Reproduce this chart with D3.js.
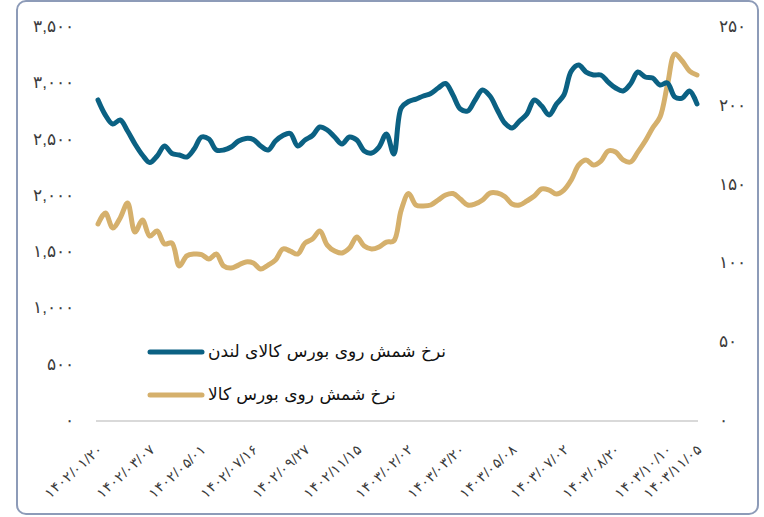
<!DOCTYPE html>
<html>
<head>
<meta charset="utf-8">
<script src="https://cdn.jsdelivr.net/npm/d3@7"></script>
<style>
	body { margin: 0; background: #ffffff; }
	svg { display: block; font-family: "DejaVu Sans", sans-serif; }
</style>
</head>
<body>
<script>
// Dates shown on the category axis (every 7th point, plus the last one)
var dateLabels = ["1402/01/20", "1402/03/07", "1402/05/01", "1402/07/16", "1402/09/27", "1402/11/15",
	"1403/02/02", "1403/03/20", "1403/05/08", "1403/07/02", "1403/08/20", "1403/10/10", "1403/11/05"];
var dateIndex = [0, 7, 14, 21, 28, 35, 42, 49, 56, 63, 70, 77, 81];

// London exchange price (left axis)
var londonValues = [2843, 2709, 2629, 2665, 2567, 2452, 2354, 2287, 2345, 2434,
	2367, 2354, 2336, 2407, 2514, 2496, 2398, 2398, 2425, 2478,
	2501, 2492, 2434, 2398, 2478, 2527, 2545, 2434, 2487, 2527,
	2603, 2576, 2514, 2452, 2514, 2487, 2390, 2372, 2425, 2541,
	2363, 2772, 2829, 2851, 2878, 2900, 2949, 2989, 2887, 2763,
	2745, 2843, 2931, 2878, 2754, 2638, 2594, 2656, 2718, 2843,
	2789, 2709, 2807, 2887, 3100, 3153, 3091, 3065, 3065, 3002,
	2949, 2923, 2985, 3091, 3047, 3038, 2976, 2994, 2869, 2860,
	2923, 2807];

// Iran commodity exchange price (right axis)
var iranValues = [124.4, 131.3, 121.8, 128.2, 137.7, 119.3, 126.9, 116.7, 119.9, 111.7,
	112.3, 97.7, 104.1, 105.3, 105.0, 102.2, 105.3, 97.7, 96.4, 98.3,
	100.3, 99.6, 95.8, 98.3, 101.5, 108.5, 107.2, 105.3, 112.3, 114.8,
	119.9, 111.0, 107.2, 106.0, 109.1, 116.1, 110.4, 108.5, 109.8, 112.9,
	113.6, 133.2, 143.7, 136.4, 135.8, 136.4, 139.6, 142.8, 143.7, 140.2,
	136.4, 137.1, 139.6, 144.0, 144.0, 141.8, 137.1, 136.4, 139.0, 142.1,
	146.6, 145.9, 143.4, 145.9, 152.3, 161.8, 165.0, 161.8, 164.3, 170.7,
	170.0, 165.0, 163.7, 170.0, 177.0, 185.3, 192.2, 212.6, 232.2, 227.8,
	221.4, 218.9];

var leftTicks = [0, 500, 1000, 1500, 2000, 2500, 3000, 3500];
var rightTicks = [0, 50, 100, 150, 200, 250];

var seriesNames = ["نرخ شمش روی بورس کالای لندن", "نرخ شمش روی بورس کالا"];
var seriesColors = ["#0b6183", "#d5b06c"];

// Latin digits -> Persian digits
function toPersian(s) {
	return String(s).replace(/[0-9]/g, function(c) { return "۰۱۲۳۴۵۶۷۸۹"[+c]; });
}

function generateViz() {
	var width = 764,
		height = 517;

	var svg = d3.select("body").append("svg")
		.attr("width", width)
		.attr("height", height);

	// chart frame
	svg.append("rect")
		.attr("x", 17)
		.attr("y", 1)
		.attr("width", 741)
		.attr("height", 513)
		.attr("rx", 9)
		.style("fill", "#ffffff")
		.style("stroke", "#8d9bb8")
		.style("stroke-width", 2);

	var xScale = d3.scaleLinear()
		.domain([0, londonValues.length - 1])
		.range([98, 697]);

	var yLeft = d3.scaleLinear().domain([0, 3500]).range([420, 26]);
	var yRight = d3.scaleLinear().domain([0, 250]).range([420, 26]);

	// baseline
	svg.append("line")
		.attr("x1", xScale(0) - 2)
		.attr("x2", xScale(londonValues.length - 1) + 1)
		.attr("y1", yLeft(0) + 1)
		.attr("y2", yLeft(0) + 1)
		.style("stroke", "#d9d9d9")
		.style("stroke-width", 2);

	// left axis
	var leftAxis = svg.append("g")
		.attr("transform", "translate(74,0)")
		.call(d3.axisLeft(yLeft)
			.tickValues(leftTicks)
			.tickSize(0)
			.tickPadding(0)
			.tickFormat(function(d) { return toPersian(d3.format(",")(d)); }));
	leftAxis.select(".domain").remove();
	leftAxis.selectAll("text")
		.attr("x", 0)
		.style("font-size", "17px")
		.style("fill", "#3b3b3b");

	// right axis
	var rightAxis = svg.append("g")
		.attr("transform", "translate(719,0)")
		.call(d3.axisRight(yRight)
			.tickValues(rightTicks)
			.tickSize(0)
			.tickPadding(0)
			.tickFormat(function(d) { return toPersian(d); }));
	rightAxis.select(".domain").remove();
	rightAxis.selectAll("text")
		.attr("x", 0)
		.style("font-size", "17px")
		.style("fill", "#3b3b3b");

	// category axis, labels rotated
	var xAxis = svg.append("g")
		.call(d3.axisBottom(xScale)
			.tickValues(dateIndex)
			.tickSize(0)
			.tickFormat(function(d, i) { return toPersian(dateLabels[i]); }));
	xAxis.select(".domain").remove();
	xAxis.selectAll("text")
		.attr("x", 0)
		.attr("y", 0)
		.attr("dy", "0.35em")
		.attr("transform", "translate(2,447) rotate(-42)")
		.style("text-anchor", "end")
		.style("font-size", "14px")
		.style("fill", "#3b3b3b");

	var leftLine = d3.line()
		.x(function(d, i) { return xScale(i); })
		.y(function(d) { return yLeft(d); })
		.curve(d3.curveCatmullRom.alpha(0.5));

	var rightLine = d3.line()
		.x(function(d, i) { return xScale(i); })
		.y(function(d) { return yRight(d); })
		.curve(d3.curveCatmullRom.alpha(0.5));

	svg.append("path")
		.attr("d", rightLine(iranValues))
		.style("fill", "none")
		.style("stroke", seriesColors[1])
		.style("stroke-width", 5)
		.style("stroke-linejoin", "round")
		.style("stroke-linecap", "round");

	svg.append("path")
		.attr("d", leftLine(londonValues))
		.style("fill", "none")
		.style("stroke", seriesColors[0])
		.style("stroke-width", 5)
		.style("stroke-linejoin", "round")
		.style("stroke-linecap", "round");

	// legend
	var legend = svg.selectAll(".legend")
		.data(seriesNames)
		.enter()
		.append("g")
		.attr("class", "legend")
		.attr("transform", function(d, i) { return "translate(0," + (351 + i * 43) + ")"; });

	legend.append("line")
		.attr("x1", 150)
		.attr("x2", 202)
		.attr("y1", 1)
		.attr("y2", 1)
		.style("stroke", function(d, i) { return seriesColors[i]; })
		.style("stroke-width", 5)
		.style("stroke-linecap", "round");

	legend.append("text")
		.attr("x", 208)
		.attr("y", 0)
		.attr("dy", "0.35em")
		.style("font-size", "17px")
		.style("fill", "#111111")
		.text(function(d) { return d; });
} // generateViz()

generateViz();
</script>
</body>
</html>
